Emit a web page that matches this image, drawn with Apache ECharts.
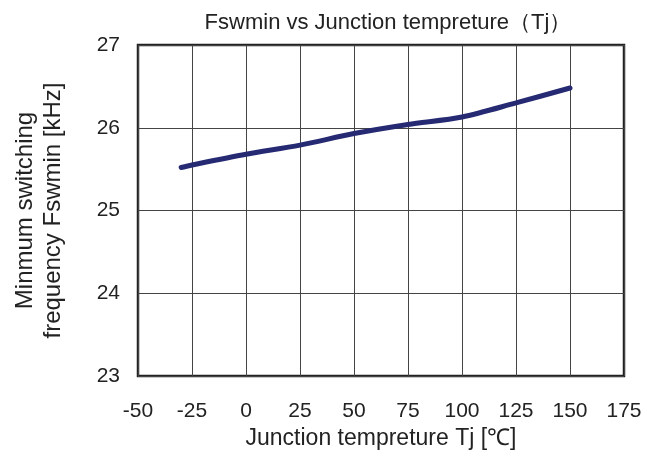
<!DOCTYPE html>
<html>
<head>
<meta charset="utf-8">
<script src="https://cdn.jsdelivr.net/npm/echarts@6/dist/echarts.min.js"></script>
<style>html,body{margin:0;padding:0;background:#fff}#c{width:661px;height:451px}</style>
</head>
<body>
<div id="c"></div>
<script>
const temps = [-30, -25, 0, 25, 50, 75, 100, 125, 150];
const fswmin = [25.52, 25.55, 25.68, 25.79, 25.93, 26.04, 26.13, 26.30, 26.48];
const xTicks = [-50, 175, 25];
const yTicks = [23, 27, 1];

const chart = echarts.init(document.getElementById('c'));
const font = '"Liberation Sans", Arial, sans-serif';
chart.setOption({
  animation: false,
  backgroundColor: '#fff',
  title: {
    text: 'Fswmin vs Junction tempreture（Tj）',
    left: 383, top: 7, textAlign: 'center',
    textStyle: {fontFamily: font, fontSize: 22, fontWeight: 'normal', color: '#222'}
  },
  grid: {left: 138, right: 37, top: 45, bottom: 75, show: true, borderColor: '#222', borderWidth: 2.5, containLabel: false, outerBoundsMode: 'none'},
  xAxis: {
    type: 'value', min: xTicks[0], max: xTicks[1], interval: xTicks[2],
    name: 'Junction tempreture Tj [℃]', nameLocation: 'middle', nameGap: 43,
    nameTextStyle: {fontFamily: font, fontSize: 23, color: '#222'},
    axisLine: {show: false}, axisTick: {show: false},
    axisLabel: {fontFamily: font, fontSize: 21, color: '#222', margin: 25},
    splitLine: {show: true, lineStyle: {color: '#444', width: 1}}
  },
  yAxis: {
    type: 'value', min: yTicks[0], max: yTicks[1], interval: yTicks[2],
    name: 'Minmum switching\nfrequency Fswmin [kHz]', nameLocation: 'middle', nameGap: 71, nameRotate: 90,
    nameTextStyle: {fontFamily: font, fontSize: 24, color: '#222', lineHeight: 28},
    axisLine: {show: false}, axisTick: {show: false},
    axisLabel: {fontFamily: font, fontSize: 21, color: '#222', margin: 18},
    splitLine: {show: true, lineStyle: {color: '#444', width: 1}}
  },
  series: [{
    type: 'line', data: temps.map((t, i) => [t, fswmin[i]]),
    showSymbol: false, smooth: 0.3,
    lineStyle: {color: '#262a72', width: 5, cap: 'round'}
  }]
});
</script>
</body>
</html>
